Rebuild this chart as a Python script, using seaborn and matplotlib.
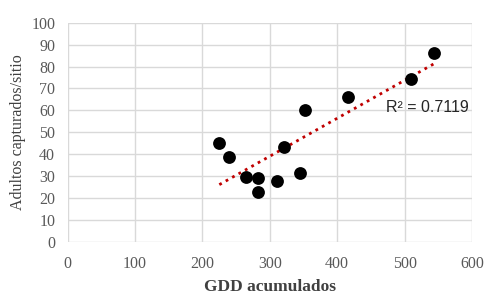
import numpy as np
import pandas as pd
import matplotlib
matplotlib.use("Agg")
import matplotlib.pyplot as plt
import seaborn as sns

# values
gdd = [225, 239, 265, 283, 283, 310, 321, 345, 352, 416, 510, 544]
adultos = [44.9, 38.7, 29.5, 29.2, 22.5, 27.9, 43.1, 31.4, 60.3, 66.1, 74.2, 86.3]
r2_label = "R² = 0.7119"
x_ticks = [0, 100, 200, 300, 400, 500, 600]
y_ticks = list(range(0, 101, 10))

df = pd.DataFrame({"gdd": gdd, "adultos": adultos})

sns.set_style("white")
plt.rcParams["font.family"] = ["Liberation Serif", "DejaVu Serif"]

fig = plt.figure(figsize=(5, 3.04), dpi=100)
ax = fig.add_axes([0.1354, 0.205, 0.8086, 0.720])

# trend line (linear fit over data range)
sns.regplot(data=df, x="gdd", y="adultos", scatter=False, ci=None, ax=ax,
            line_kws={"color": "#c00000", "linestyle": ":", "linewidth": 2.0})
sns.scatterplot(data=df, x="gdd", y="adultos", ax=ax, color="black",
                s=85, edgecolor="black", linewidth=0, zorder=3)

ax.set_xlim(0, 600)
ax.set_ylim(0, 100)
ax.set_xticks(x_ticks)
ax.set_yticks(y_ticks)
ax.grid(True, color="#d9d9d9", linewidth=1.0)
ax.set_axisbelow(True)
for s in ax.spines.values():
    s.set_visible(False)
ax.tick_params(axis="both", length=0, labelsize=11.5, labelcolor="#595959")
ax.tick_params(axis="y", pad=9)
ax.tick_params(axis="x", pad=10)

ax.set_xlabel("GDD acumulados", fontsize=12.5, fontweight="bold", color="#404040")
ax.set_ylabel("Adultos capturados/sitio", fontsize=11.5, color="#404040")
ax.xaxis.set_label_coords(0.5, -0.172)
ax.yaxis.set_label_coords(-0.103, 0.5)

ax.text(472, 61.2, r2_label, fontsize=11.5, va="center", ha="left",
        family=["Liberation Sans", "DejaVu Sans"], color="#262626")

fig.savefig("out.png", dpi=100)
